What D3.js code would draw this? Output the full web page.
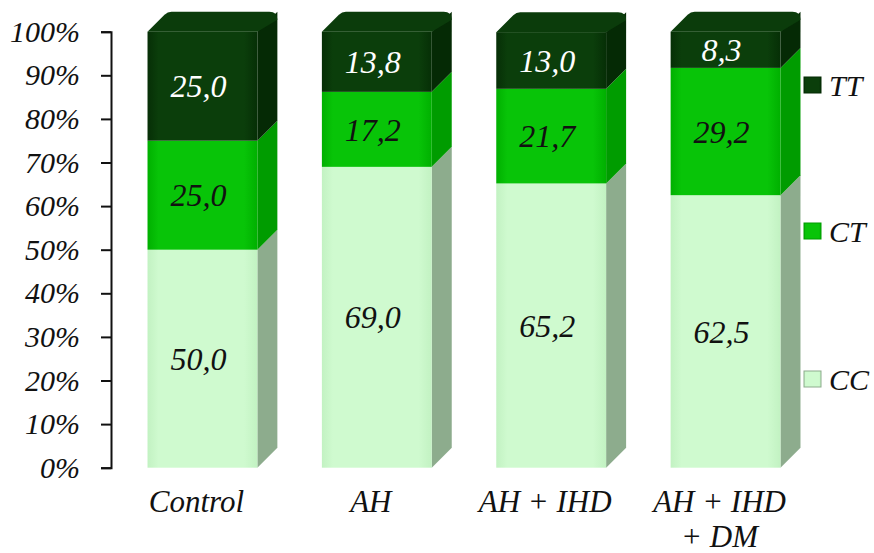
<!DOCTYPE html>
<html>
<head>
<meta charset="utf-8">
<script src="https://cdn.jsdelivr.net/npm/d3@7"></script>
<style>
  html, body { margin: 0; padding: 0; background: #ffffff; }
  svg { display: block; }
</style>
</head>
<body>
<svg id="chart" width="874" height="553"></svg>
<script>
// ---- data ----
const categories = ["Control", "AH", "AH + IHD", "AH + IHD + DM"];
const categoryLines = [["Control"], ["AH"], ["AH + IHD"], ["AH + IHD", "+ DM"]];
const seriesNames = ["CC", "CT", "TT"];
const valuesCC = [50.0, 69.0, 65.2, 62.5];
const valuesCT = [25.0, 17.2, 21.7, 29.2];
const valuesTT = [25.0, 13.8, 13.0, 8.3];
const tickValues = [0, 10, 20, 30, 40, 50, 60, 70, 80, 90, 100];

// ---- styles ----
const FONT = "'Liberation Serif'";
const front = {CC: ["#c2f2c2", "#cffacf"], CT: ["#00b000", "#08c408"], TT: ["#062f06", "#0b3e0b"]};
const side  = {CC: "#8dac8d", CT: "#009c00", TT: "#052a05"};
const topTT = "#0b3c0b";
const labelColor = {CC: "#111111", CT: "#111111", TT: "#ffffff"};

const svg = d3.select("#chart");
const defs = svg.append("defs");
seriesNames.forEach(s => {
  const g = defs.append("linearGradient").attr("id", "g" + s).attr("x1", 0).attr("x2", 1).attr("y1", 0).attr("y2", 0);
  g.append("stop").attr("offset", "0%").attr("stop-color", front[s][0]);
  g.append("stop").attr("offset", "10%").attr("stop-color", front[s][1]);
  g.append("stop").attr("offset", "88%").attr("stop-color", front[s][1]);
  g.append("stop").attr("offset", "100%").attr("stop-color", front[s][0]);
});

function styleText(sel, size) {
  return sel.style("font-family", FONT).style("font-style", "italic").style("font-size", size + "px");
}

const y = d3.scaleLinear().domain([0, 100]).range([467.7, 31.7]);
const x = d3.scaleBand().domain(categories).range([83, 845]).padding(0.37);
const dx = 20, dy = 20;

const rows = categories.map((c, i) => ({cat: c, CC: valuesCC[i], CT: valuesCT[i], TT: valuesTT[i]}));
const stacked = d3.stack().keys(seriesNames)(rows);

const bars = svg.append("g");
stacked.forEach(layer => {
  const s = layer.key;
  layer.forEach((d, i) => {
    const x0 = x(categories[i]), w = x.bandwidth();
    const yb = y(d[0]), yt = y(d[1]);
    bars.append("path")
      .attr("d", `M${x0 + w},${yb} L${x0 + w + dx},${yb - dy} L${x0 + w + dx},${yt - dy} L${x0 + w},${yt} Z`)
      .attr("fill", side[s]);
    bars.append("rect")
      .attr("x", x0).attr("y", yt).attr("width", w).attr("height", yb - yt)
      .attr("fill", `url(#g${s})`);
  });
});
// top faces
stacked[stacked.length - 1].forEach((d, i) => {
  const x0 = x(categories[i]), w = x.bandwidth(), yt = y(d[1]);
  const r = 8;
  bars.append("path")
    .attr("d", `M${x0},${yt} L${x0 + dx - 3},${yt - dy + 3} Q${x0 + dx},${yt - dy} ${x0 + dx + 4},${yt - dy}
                L${x0 + w + dx - r},${yt - dy} Q${x0 + w + dx},${yt - dy} ${x0 + w + dx},${yt - dy + r}
                L${x0 + w},${yt} Z`)
    .attr("fill", topTT);
});

// value labels
stacked.forEach(layer => {
  const s = layer.key;
  layer.forEach((d, i) => {
    const v = d[1] - d[0];
    styleText(svg.append("text"), 32)
      .attr("x", x(categories[i]) + x.bandwidth() / 2 - 4)
      .attr("y", y((d[0] + d[1]) / 2))
      .attr("dy", "0.35em")
      .attr("text-anchor", "middle")
      .attr("fill", labelColor[s])
      .text(v.toFixed(1).replace(".", ","));
  });
});

// y axis
const axis = svg.append("g").attr("transform", "translate(111,0)")
  .call(d3.axisLeft(y).tickValues(tickValues).tickFormat(d => d + "%").tickSize(10).tickPadding(21));
axis.attr("font-family", null);
axis.select(".domain").attr("stroke", "#111").attr("stroke-width", 2);
axis.selectAll(".tick line").attr("stroke", "#111").attr("stroke-width", 2);
styleText(axis.selectAll(".tick text"), 30).attr("fill", "#111");

// category labels
categories.forEach((c, i) => {
  const cx = x(c) + x.bandwidth() / 2 - 6;
  const t = styleText(svg.append("text"), 31)
    .attr("x", cx).attr("y", 512)
    .attr("text-anchor", "middle")
    .attr("fill", "#111");
  categoryLines[i].forEach((line, j) => {
    t.append("tspan").attr("x", cx).attr("dy", j === 0 ? 0 : 35).text(line);
  });
});

// legend
const legendItems = [{k: "TT", cy: 85}, {k: "CT", cy: 231}, {k: "CC", cy: 379}];
const leg = svg.append("g");
legendItems.forEach(it => {
  leg.append("rect").attr("x", 804).attr("y", it.cy - 8).attr("width", 17).attr("height", 16)
    .attr("fill", `url(#g${it.k})`).attr("stroke", side[it.k]).attr("stroke-width", 1);
  styleText(leg.append("text"), 30).attr("x", 829).attr("y", it.cy).attr("dy", "0.35em")
    .attr("fill", "#111").text(it.k);
});
</script>
</body>
</html>
